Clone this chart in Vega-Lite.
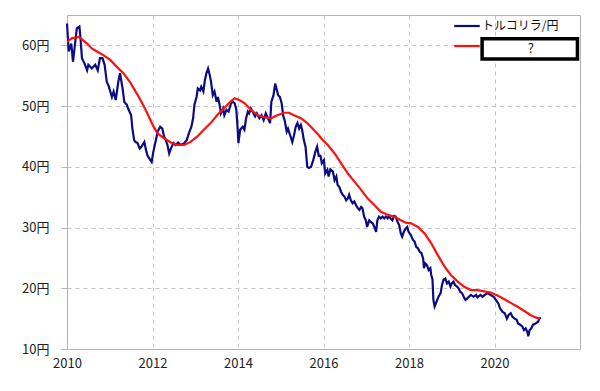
{
  "$schema": "https://vega.github.io/schema/vega-lite/v6.json",
  "width": 513,
  "height": 334,
  "autosize": {"type": "none"},
  "padding": {"left": 67, "top": 15, "right": 20, "bottom": 42},
  "background": "white",
  "config": {
    "view": {"stroke": "#b4b4b4", "strokeWidth": 1},
    "font": "Noto Sans CJK JP",
    "axis": {
      "labelFont": "Noto Sans CJK JP",
      "labelFontSize": 13,
      "labelColor": "#222222",
      "domainColor": "#b4b4b4",
      "tickColor": "#b4b4b4",
      "gridColor": "#c4c4c4",
      "gridDash": [4, 4],
      "title": null
    }
  },
  "datasets": {
    "fx": [
      {"t": 2010.00, "v": 63.6}, {"t": 2010.04, "v": 59.0}, {"t": 2010.10, "v": 60.3}, {"t": 2010.14, "v": 57.3},
      {"t": 2010.18, "v": 59.8}, {"t": 2010.23, "v": 62.8}, {"t": 2010.29, "v": 63.1}, {"t": 2010.31, "v": 61.7},
      {"t": 2010.35, "v": 57.9}, {"t": 2010.41, "v": 57.0}, {"t": 2010.47, "v": 55.9}, {"t": 2010.50, "v": 56.8},
      {"t": 2010.58, "v": 56.2}, {"t": 2010.66, "v": 56.8}, {"t": 2010.72, "v": 55.9}, {"t": 2010.77, "v": 57.9},
      {"t": 2010.83, "v": 57.9}, {"t": 2010.88, "v": 56.8}, {"t": 2010.93, "v": 54.0}, {"t": 2010.98, "v": 53.2},
      {"t": 2011.05, "v": 51.5}, {"t": 2011.09, "v": 52.4}, {"t": 2011.14, "v": 51.0}, {"t": 2011.20, "v": 54.0},
      {"t": 2011.24, "v": 55.4}, {"t": 2011.30, "v": 52.9}, {"t": 2011.34, "v": 50.7}, {"t": 2011.40, "v": 50.2},
      {"t": 2011.43, "v": 49.6}, {"t": 2011.50, "v": 48.5}, {"t": 2011.53, "v": 46.3}, {"t": 2011.57, "v": 44.4},
      {"t": 2011.60, "v": 44.1}, {"t": 2011.65, "v": 43.9}, {"t": 2011.70, "v": 43.0}, {"t": 2011.74, "v": 43.3},
      {"t": 2011.81, "v": 44.1}, {"t": 2011.84, "v": 43.0}, {"t": 2011.88, "v": 41.9}, {"t": 2011.95, "v": 41.1},
      {"t": 2011.98, "v": 40.8}, {"t": 2012.02, "v": 42.5}, {"t": 2012.08, "v": 44.4}, {"t": 2012.12, "v": 45.8},
      {"t": 2012.18, "v": 46.6}, {"t": 2012.23, "v": 46.3}, {"t": 2012.27, "v": 45.0}, {"t": 2012.31, "v": 44.4},
      {"t": 2012.35, "v": 43.6}, {"t": 2012.39, "v": 42.2}, {"t": 2012.43, "v": 43.0}, {"t": 2012.49, "v": 43.9},
      {"t": 2012.54, "v": 43.6}, {"t": 2012.60, "v": 44.0}, {"t": 2012.66, "v": 43.6}, {"t": 2012.74, "v": 43.9},
      {"t": 2012.80, "v": 44.4}, {"t": 2012.85, "v": 45.5}, {"t": 2012.91, "v": 46.6}, {"t": 2012.95, "v": 48.0},
      {"t": 2012.98, "v": 50.2}, {"t": 2013.03, "v": 51.5}, {"t": 2013.06, "v": 52.9}, {"t": 2013.11, "v": 52.6},
      {"t": 2013.14, "v": 53.2}, {"t": 2013.19, "v": 52.4}, {"t": 2013.22, "v": 54.0}, {"t": 2013.26, "v": 55.4},
      {"t": 2013.30, "v": 56.2}, {"t": 2013.34, "v": 55.1}, {"t": 2013.37, "v": 54.0}, {"t": 2013.41, "v": 51.8},
      {"t": 2013.45, "v": 52.4}, {"t": 2013.50, "v": 50.7}, {"t": 2013.53, "v": 51.5}, {"t": 2013.57, "v": 50.2},
      {"t": 2013.60, "v": 48.8}, {"t": 2013.65, "v": 49.6}, {"t": 2013.68, "v": 48.5}, {"t": 2013.73, "v": 49.4},
      {"t": 2013.78, "v": 49.1}, {"t": 2013.84, "v": 50.5}, {"t": 2013.88, "v": 50.7}, {"t": 2013.92, "v": 50.5},
      {"t": 2013.96, "v": 49.5}, {"t": 2013.99, "v": 46.5}, {"t": 2014.01, "v": 43.9}, {"t": 2014.05, "v": 46.1},
      {"t": 2014.11, "v": 46.6}, {"t": 2014.15, "v": 46.1}, {"t": 2014.19, "v": 48.0}, {"t": 2014.23, "v": 49.1},
      {"t": 2014.26, "v": 48.8}, {"t": 2014.30, "v": 49.6}, {"t": 2014.34, "v": 49.1}, {"t": 2014.40, "v": 48.3},
      {"t": 2014.44, "v": 48.8}, {"t": 2014.50, "v": 48.0}, {"t": 2014.55, "v": 48.5}, {"t": 2014.60, "v": 47.7},
      {"t": 2014.65, "v": 48.8}, {"t": 2014.70, "v": 48.0}, {"t": 2014.75, "v": 47.2}, {"t": 2014.78, "v": 50.7},
      {"t": 2014.83, "v": 51.8}, {"t": 2014.87, "v": 53.7}, {"t": 2014.91, "v": 52.6}, {"t": 2014.94, "v": 51.8},
      {"t": 2014.98, "v": 51.5}, {"t": 2015.02, "v": 50.5}, {"t": 2015.06, "v": 48.3}, {"t": 2015.09, "v": 47.7},
      {"t": 2015.14, "v": 45.8}, {"t": 2015.17, "v": 46.3}, {"t": 2015.22, "v": 45.2}, {"t": 2015.27, "v": 44.1},
      {"t": 2015.31, "v": 45.2}, {"t": 2015.35, "v": 46.6}, {"t": 2015.39, "v": 47.2}, {"t": 2015.43, "v": 46.3},
      {"t": 2015.47, "v": 46.9}, {"t": 2015.50, "v": 46.1}, {"t": 2015.54, "v": 44.4}, {"t": 2015.58, "v": 43.3},
      {"t": 2015.62, "v": 40.0}, {"t": 2015.66, "v": 39.8}, {"t": 2015.71, "v": 40.0}, {"t": 2015.76, "v": 41.1},
      {"t": 2015.81, "v": 42.5}, {"t": 2015.85, "v": 43.3}, {"t": 2015.89, "v": 41.8}, {"t": 2015.93, "v": 41.8},
      {"t": 2015.96, "v": 40.6}, {"t": 2016.01, "v": 41.1}, {"t": 2016.04, "v": 38.9}, {"t": 2016.09, "v": 39.5},
      {"t": 2016.12, "v": 38.4}, {"t": 2016.16, "v": 39.6}, {"t": 2016.22, "v": 39.2}, {"t": 2016.26, "v": 37.8},
      {"t": 2016.30, "v": 38.4}, {"t": 2016.33, "v": 37.0}, {"t": 2016.37, "v": 36.7}, {"t": 2016.41, "v": 35.9},
      {"t": 2016.45, "v": 35.4}, {"t": 2016.49, "v": 35.1}, {"t": 2016.53, "v": 34.5}, {"t": 2016.57, "v": 34.8},
      {"t": 2016.60, "v": 35.4}, {"t": 2016.64, "v": 34.5}, {"t": 2016.68, "v": 34.0}, {"t": 2016.72, "v": 34.3},
      {"t": 2016.76, "v": 33.7}, {"t": 2016.80, "v": 33.2}, {"t": 2016.84, "v": 32.9}, {"t": 2016.88, "v": 33.4},
      {"t": 2016.91, "v": 33.2}, {"t": 2016.95, "v": 31.8}, {"t": 2016.99, "v": 31.2}, {"t": 2017.02, "v": 30.1},
      {"t": 2017.07, "v": 31.2}, {"t": 2017.11, "v": 30.9}, {"t": 2017.15, "v": 30.7}, {"t": 2017.19, "v": 30.1},
      {"t": 2017.23, "v": 29.3}, {"t": 2017.26, "v": 31.2}, {"t": 2017.30, "v": 31.8}, {"t": 2017.34, "v": 31.5},
      {"t": 2017.38, "v": 31.8}, {"t": 2017.42, "v": 31.5}, {"t": 2017.46, "v": 31.8}, {"t": 2017.50, "v": 31.5},
      {"t": 2017.53, "v": 31.9}, {"t": 2017.57, "v": 31.5}, {"t": 2017.61, "v": 31.2}, {"t": 2017.65, "v": 31.9},
      {"t": 2017.69, "v": 31.8}, {"t": 2017.73, "v": 31.0}, {"t": 2017.77, "v": 30.4}, {"t": 2017.81, "v": 29.0},
      {"t": 2017.84, "v": 28.5}, {"t": 2017.88, "v": 29.3}, {"t": 2017.92, "v": 29.8}, {"t": 2017.96, "v": 30.1},
      {"t": 2017.99, "v": 29.3}, {"t": 2018.04, "v": 28.8}, {"t": 2018.09, "v": 28.0}, {"t": 2018.13, "v": 27.7},
      {"t": 2018.17, "v": 26.8}, {"t": 2018.21, "v": 26.6}, {"t": 2018.25, "v": 26.0}, {"t": 2018.29, "v": 25.8},
      {"t": 2018.33, "v": 24.9}, {"t": 2018.35, "v": 23.3}, {"t": 2018.38, "v": 24.1}, {"t": 2018.42, "v": 23.8},
      {"t": 2018.46, "v": 23.0}, {"t": 2018.50, "v": 23.3}, {"t": 2018.52, "v": 22.2}, {"t": 2018.55, "v": 21.4},
      {"t": 2018.57, "v": 18.1}, {"t": 2018.60, "v": 17.0}, {"t": 2018.63, "v": 17.5}, {"t": 2018.66, "v": 18.1},
      {"t": 2018.69, "v": 18.6}, {"t": 2018.74, "v": 19.2}, {"t": 2018.77, "v": 20.5}, {"t": 2018.81, "v": 21.4},
      {"t": 2018.85, "v": 21.6}, {"t": 2018.89, "v": 20.8}, {"t": 2018.93, "v": 21.1}, {"t": 2018.97, "v": 20.3},
      {"t": 2019.00, "v": 20.8}, {"t": 2019.04, "v": 21.1}, {"t": 2019.08, "v": 20.5}, {"t": 2019.12, "v": 20.3},
      {"t": 2019.16, "v": 20.0}, {"t": 2019.20, "v": 19.4}, {"t": 2019.24, "v": 19.2}, {"t": 2019.28, "v": 18.6},
      {"t": 2019.32, "v": 18.1}, {"t": 2019.36, "v": 18.3}, {"t": 2019.40, "v": 18.6}, {"t": 2019.45, "v": 18.9},
      {"t": 2019.51, "v": 18.6}, {"t": 2019.57, "v": 18.9}, {"t": 2019.60, "v": 18.5}, {"t": 2019.67, "v": 18.9},
      {"t": 2019.72, "v": 18.6}, {"t": 2019.77, "v": 18.9}, {"t": 2019.84, "v": 19.2}, {"t": 2019.91, "v": 18.9},
      {"t": 2019.98, "v": 18.6}, {"t": 2020.03, "v": 18.1}, {"t": 2020.09, "v": 17.5}, {"t": 2020.13, "v": 16.7},
      {"t": 2020.19, "v": 16.1}, {"t": 2020.24, "v": 15.9}, {"t": 2020.29, "v": 15.0}, {"t": 2020.33, "v": 15.6},
      {"t": 2020.38, "v": 15.9}, {"t": 2020.42, "v": 15.3}, {"t": 2020.47, "v": 15.0}, {"t": 2020.52, "v": 14.8},
      {"t": 2020.55, "v": 14.2}, {"t": 2020.60, "v": 14.0}, {"t": 2020.65, "v": 13.7}, {"t": 2020.69, "v": 13.1},
      {"t": 2020.73, "v": 13.4}, {"t": 2020.77, "v": 12.8}, {"t": 2020.79, "v": 12.1}, {"t": 2020.82, "v": 13.1},
      {"t": 2020.86, "v": 13.4}, {"t": 2020.90, "v": 14.0}, {"t": 2020.94, "v": 14.1}, {"t": 2020.98, "v": 14.3},
      {"t": 2021.02, "v": 14.5}, {"t": 2021.05, "v": 15.0}, {"t": 2021.08, "v": 15.2}
    ],
    "ma": [
      {"t": 2010.00, "v": 60.6}, {"t": 2010.12, "v": 61.2}, {"t": 2010.27, "v": 61.4}, {"t": 2010.35, "v": 61.0},
      {"t": 2010.47, "v": 60.3}, {"t": 2010.58, "v": 59.5}, {"t": 2010.70, "v": 59.0}, {"t": 2010.85, "v": 58.4},
      {"t": 2011.01, "v": 57.6}, {"t": 2011.16, "v": 56.5}, {"t": 2011.32, "v": 55.4}, {"t": 2011.47, "v": 54.0},
      {"t": 2011.63, "v": 52.1}, {"t": 2011.78, "v": 50.2}, {"t": 2011.90, "v": 48.5}, {"t": 2012.01, "v": 46.8},
      {"t": 2012.12, "v": 45.5}, {"t": 2012.27, "v": 44.7}, {"t": 2012.43, "v": 44.0}, {"t": 2012.58, "v": 43.6},
      {"t": 2012.74, "v": 43.6}, {"t": 2012.89, "v": 44.1}, {"t": 2013.05, "v": 45.0}, {"t": 2013.20, "v": 46.1},
      {"t": 2013.36, "v": 47.2}, {"t": 2013.51, "v": 48.5}, {"t": 2013.67, "v": 49.6}, {"t": 2013.82, "v": 50.7},
      {"t": 2013.92, "v": 51.3}, {"t": 2014.03, "v": 51.0}, {"t": 2014.15, "v": 50.5}, {"t": 2014.30, "v": 49.4},
      {"t": 2014.46, "v": 48.5}, {"t": 2014.61, "v": 48.2}, {"t": 2014.77, "v": 48.0}, {"t": 2014.92, "v": 48.5},
      {"t": 2015.08, "v": 48.9}, {"t": 2015.19, "v": 48.9}, {"t": 2015.31, "v": 48.5}, {"t": 2015.47, "v": 48.0},
      {"t": 2015.62, "v": 47.2}, {"t": 2015.77, "v": 46.1}, {"t": 2015.89, "v": 45.2}, {"t": 2015.97, "v": 44.5},
      {"t": 2016.10, "v": 43.6}, {"t": 2016.26, "v": 42.2}, {"t": 2016.41, "v": 40.6}, {"t": 2016.57, "v": 38.9},
      {"t": 2016.72, "v": 37.6}, {"t": 2016.88, "v": 36.2}, {"t": 2017.03, "v": 34.8}, {"t": 2017.19, "v": 33.7},
      {"t": 2017.34, "v": 32.6}, {"t": 2017.50, "v": 32.1}, {"t": 2017.65, "v": 31.8}, {"t": 2017.81, "v": 31.2},
      {"t": 2017.92, "v": 30.8}, {"t": 2018.05, "v": 30.7}, {"t": 2018.21, "v": 30.1}, {"t": 2018.37, "v": 29.0},
      {"t": 2018.52, "v": 27.4}, {"t": 2018.67, "v": 25.5}, {"t": 2018.83, "v": 23.6}, {"t": 2018.98, "v": 22.2},
      {"t": 2019.14, "v": 21.1}, {"t": 2019.30, "v": 20.2}, {"t": 2019.45, "v": 19.7}, {"t": 2019.60, "v": 19.7},
      {"t": 2019.76, "v": 19.5}, {"t": 2019.91, "v": 19.3}, {"t": 2020.07, "v": 18.8}, {"t": 2020.23, "v": 18.2},
      {"t": 2020.38, "v": 17.6}, {"t": 2020.53, "v": 17.0}, {"t": 2020.69, "v": 16.3}, {"t": 2020.84, "v": 15.6},
      {"t": 2020.96, "v": 15.2}, {"t": 2021.06, "v": 15.0}
    ]
  },
  "layer": [
    {
      "data": {"name": "fx"},
      "transform": [{"calculate": "'トルコリラ/円'", "as": "s"}],
      "mark": {"type": "line", "strokeWidth": 2.2, "interpolate": "linear"},
      "encoding": {
        "x": {
          "field": "t", "type": "quantitative",
          "scale": {"domain": [2010, 2022], "nice": false, "zero": false},
          "axis": {"values": [2010, 2012, 2014, 2016, 2018, 2020], "format": "d", "grid": true, "ticks": false, "labelPadding": 8, "labelFlush": false}
        },
        "y": {
          "field": "v", "type": "quantitative",
          "scale": {"domain": [10, 65], "nice": false, "zero": false},
          "axis": {"values": [10, 20, 30, 40, 50, 60], "labelExpr": "datum.value + '円'", "grid": true, "tickSize": 6, "labelPadding": 12, "labelFlush": false}
        },
        "color": {
          "field": "s", "type": "nominal",
          "scale": {"domain": ["トルコリラ/円", "?"], "range": ["#0b0b82", "#ff1010"]},
          "legend": {
            "orient": "none", "legendX": 386, "legendY": -3, "direction": "vertical", "title": null,
            "symbolType": "stroke", "symbolSize": 650, "symbolStrokeWidth": 2.2,
            "labelFont": "Noto Sans CJK JP", "labelFontSize": 12, "labelColor": "#111111",
            "labelOffset": 1, "padding": 0, "rowPadding": 0,
            "labelExpr": "datum.value == '?' ? '' : datum.label"
          }
        }
      }
    },
    {
      "data": {"name": "ma"},
      "transform": [{"calculate": "'?'", "as": "s"}],
      "mark": {"type": "line", "strokeWidth": 2.2},
      "encoding": {
        "x": {"field": "t", "type": "quantitative"},
        "y": {"field": "v", "type": "quantitative"},
        "color": {"field": "s", "type": "nominal"}
      }
    },
    {
      "data": {"values": [{}]},
      "mark": {"type": "rect", "fill": "white", "stroke": "black", "strokeWidth": 3.5, "clip": false},
      "encoding": {
        "x": {"datum": 2019.71}, "x2": {"datum": 2021.94},
        "y": {"datum": 61.1}, "y2": {"datum": 57.75}
      }
    },
    {
      "data": {"values": [{}]},
      "mark": {"type": "text", "text": "?", "fontSize": 13, "font": "Noto Sans CJK JP", "color": "#111111", "align": "center", "baseline": "middle"},
      "encoding": {
        "x": {"datum": 2020.85}, "y": {"datum": 59.4}
      }
    }
  ]
}
